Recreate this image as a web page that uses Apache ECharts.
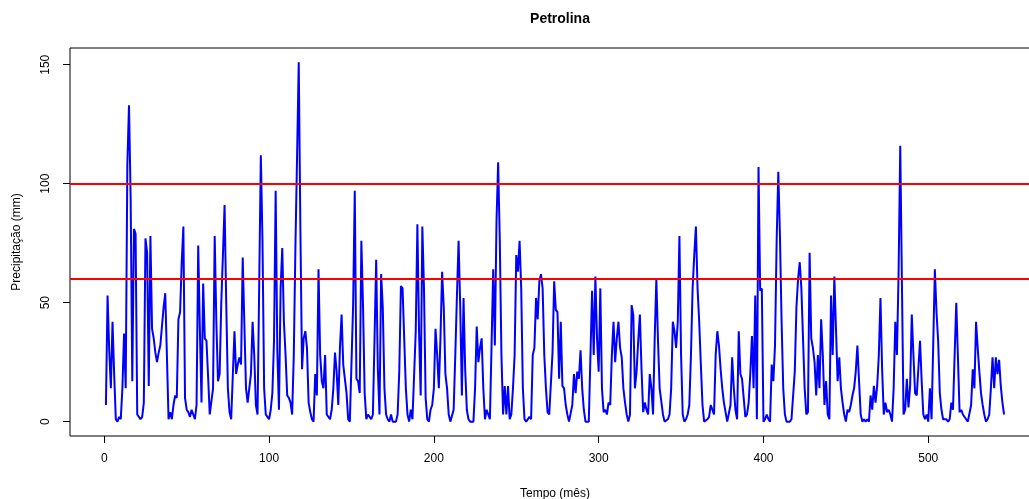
<!DOCTYPE html>
<html>
<head>
<meta charset="utf-8">
<script src="https://cdn.jsdelivr.net/npm/echarts@6/dist/echarts.min.js"></script>
<style>html,body{margin:0;padding:0;background:#fff}#c{width:1029px;height:499px}</style>
</head>
<body>
<div id="c"></div>
<script>
// Monthly precipitation (mm), months 1..546
const precip = [
  7, 53, 30, 14, 42, 20, 1, 0, 2, 1,
  14, 37, 14, 108, 133, 94, 17, 81, 79, 3,
  2, 1, 2, 8, 77, 71, 15, 78, 39, 35,
  29, 25, 29, 32, 32, 48, 54, 28, 1, 4,
  1, 7, 11, 10, 43, 46, 67, 82, 10, 5,
  4, 2, 5, 3, 1, 7, 74, 39, 8, 58,
  35, 34, 19, 3, 3, 14, 78, 42, 17, 20,
  50, 70, 91, 50, 14, 4, 1, 1, 38, 20,
  24, 27, 24, 69, 41, 14, 8, 14, 20, 42,
  28, 7, 3, 57, 112, 76, 14, 3, 2, 1,
  5, 12, 34, 97, 30, 5, 56, 73, 42, 28,
  11, 10, 8, 3, 28, 74, 112, 151, 81, 22,
  35, 38, 31, 8, 4, 1, 0, 20, 11, 64,
  28, 17, 14, 28, 3, 3, 1, 5, 14, 29,
  21, 7, 31, 45, 24, 24, 12, 1, 0, 0,
  49, 97, 18, 17, 12, 76, 49, 12, 1, 3,
  2, 1, 3, 35, 68, 22, 3, 62, 48, 14,
  3, 1, 0, 3, 0, 0, 0, 3, 21, 57,
  56, 35, 14, 3, 0, 5, 1, 1, 38, 83,
  38, 11, 82, 56, 10, 1, 0, 5, 7, 14,
  39, 28, 14, 35, 63, 48, 20, 14, 3, 0,
  0, 5, 28, 53, 76, 48, 11, 52, 22, 5,
  1, 0, 0, 0, 14, 40, 25, 31, 35, 14,
  1, 5, 3, 1, 32, 64, 32, 84, 109, 76,
  28, 3, 15, 3, 15, 1, 3, 14, 28, 70,
  63, 76, 56, 14, 1, 0, 0, 2, 1, 28,
  31, 52, 43, 59, 62, 56, 28, 14, 4, 3,
  3, 29, 59, 47, 46, 18, 42, 15, 14, 7,
  3, 0, 0, 7, 20, 12, 21, 18, 30, 14,
  5, 0, 0, 0, 0, 55, 28, 61, 35, 21,
  56, 14, 4, 5, 3, 8, 7, 28, 42, 25,
  35, 42, 31, 27, 14, 8, 3, 0, 3, 49,
  45, 14, 21, 34, 45, 22, 4, 8, 5, 3,
  20, 14, 3, 35, 60, 34, 14, 14, 3, 0,
  0, 1, 3, 14, 42, 38, 31, 42, 78, 28,
  3, 0, 1, 3, 7, 28, 56, 70, 82, 56,
  42, 24, 7, 0, 0, 1, 2, 7, 7, 3,
  28, 38, 32, 22, 14, 8, 4, 0, 0, 7,
  27, 14, 5, 1, 38, 20, 18, 10, 2, 3,
  8, 20, 36, 14, 53, 1, 107, 55, 56, 0,
  1, 3, 1, 0, 24, 17, 32, 76, 105, 78,
  42, 14, 3, 0, 0, 0, 1, 1, 21, 48,
  60, 67, 56, 35, 14, 3, 4, 71, 35, 31,
  25, 11, 28, 14, 43, 28, 7, 17, 3, 1,
  53, 28, 61, 39, 17, 27, 14, 8, 3, 0,
  5, 4, 7, 11, 14, 21, 32, 17, 3, 0,
  1, 0, 1, 0, 11, 5, 15, 8, 15, 28,
  52, 22, 3, 8, 4, 5, 3, 0, 14, 42,
  28, 63, 116, 59, 3, 5, 18, 6, 15, 45,
  28, 12, 11, 11, 34, 17, 3, 1, 3, 0,
  14, 1, 32, 64, 46, 34, 12, 5, 1, 1,
  1, 0, 1, 8, 5, 28, 50, 27, 4, 5,
  3, 3, 1, 0, 0, 7, 22, 14, 42, 31,
  21, 12, 7, 3, 0, 1, 3, 14, 27, 14,
  27, 20, 26, 15, 8, 3
];
const months = precip.map((v, i) => i + 1);
const xTicks = [0, 100, 200, 300, 400, 500];
const yTicks = [0, 50, 100, 150];
const thresholds = [60, 100];

const chartTitle = 'Petrolina';
const xName = 'Tempo (mês)';
const yName = 'Precipitação (mm)';

// R-style 4% axis extension
const n = precip.length;
const xMin = 1 - 0.04 * (n - 1), xMax = n + 0.04 * (n - 1);
const yLo = Math.min(...precip), yHi = Math.max(...precip);
const yMin = yLo - 0.04 * (yHi - yLo), yMax = yHi + 0.04 * (yHi - yLo);

const font = 'Liberation Sans, Arial, sans-serif';
const chart = echarts.init(document.getElementById('c'), null, {renderer: 'canvas'});
chart.setOption({
  animation: false,
  backgroundColor: '#ffffff',
  title: {
    text: chartTitle, left: 555, top: 7, textAlign: 'center',
    textStyle: {fontFamily: font, fontSize: 14, fontWeight: 'bold', color: '#000'}
  },
  grid: {left: 70, top: 48, right: -11, bottom: 63, containLabel: false, outerBoundsMode: 'none',
         show: true, borderColor: '#000', borderWidth: 1, backgroundColor: 'transparent'},
  xAxis: {
    type: 'value', min: xMin, max: xMax,
    name: xName, nameLocation: 'middle', nameGap: 52,
    nameTextStyle: {fontFamily: font, fontSize: 12, color: '#000'},
    axisLine: {show: false, onZero: false},
    axisTick: {show: true, inside: false, length: 7, customValues: xTicks, lineStyle: {color: '#000'}},
    axisLabel: {show: true, customValues: xTicks, margin: 17, fontFamily: font, fontSize: 12, color: '#000'},
    splitLine: {show: false}
  },
  yAxis: {
    type: 'value', min: yMin, max: yMax,
    name: yName, nameLocation: 'middle', nameGap: 47, nameRotate: 90,
    nameTextStyle: {fontFamily: font, fontSize: 12, color: '#000'},
    axisLine: {show: false, onZero: false},
    axisTick: {show: true, inside: false, length: 7, customValues: yTicks, lineStyle: {color: '#000'}},
    axisLabel: {show: true, customValues: yTicks, rotate: 90, margin: 18, fontFamily: font, fontSize: 12, color: '#000'},
    splitLine: {show: false}
  },
  series: [{
    type: 'line',
    data: months.map((m, i) => [m, precip[i]]),
    showSymbol: false,
    symbol: 'none',
    lineStyle: {color: '#0000ff', width: 2},
    markLine: {
      silent: true, symbol: 'none', label: {show: false},
      lineStyle: {color: '#ff0000', width: 2, type: 'solid'},
      data: thresholds.map(v => ({yAxis: v}))
    }
  }]
});
</script>
</body>
</html>
